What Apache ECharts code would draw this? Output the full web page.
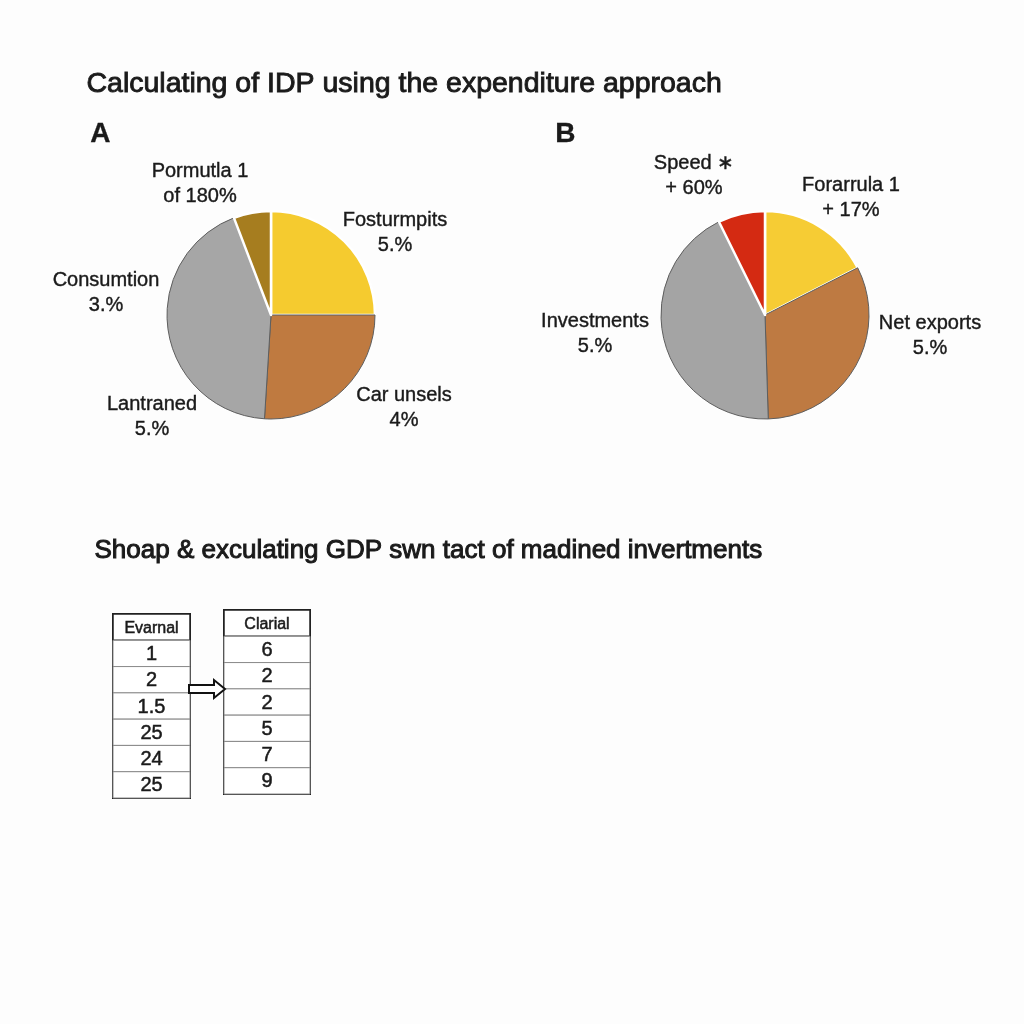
<!DOCTYPE html>
<html>
<head>
<meta charset="utf-8">
<script src="https://cdn.jsdelivr.net/npm/echarts@6/dist/echarts.min.js"></script>
<style>
  html, body { margin: 0; padding: 0; background: #fdfdfd; }
  #chart { width: 1024px; height: 1024px; }
</style>
</head>
<body>
<div id="chart"></div>
<script>
// pie A
const pieANames = ['Fosturmpits', 'Car unsels', 'Lantraned', 'Pormutla 1'];
const pieAText = ['5.%', '4%', '5.%', 'of 180%'];
const pieAValues = [25, 26, 43.2, 5.8];
const pieAColors = ['#f5cb2f', '#bf7a40', '#a6a6a6', '#a67d1f'];
const pieAExtraName = 'Consumtion';
const pieAExtraText = '3.%';

// pie B
const pieBNames = ['Forarrula 1', 'Net exports', 'Investments', 'Speed \u2217'];
const pieBText = ['+ 17%', '5.%', '5.%', '+ 60%'];
const pieBValues = [17.5, 32, 43.2, 7.3];
const pieBColors = ['#f6cc34', '#be7a42', '#a4a4a4', '#d42a12'];

// tables
const tableAHeader = 'Evarnal';
const tableAValues = ['1', '2', '1.5', '25', '24', '25'];
const tableBHeader = 'Clarial';
const tableBValues = ['6', '2', '2', '5', '7', '9'];

// label spots (centre of each two-line label)
const pieALabelPos = [[395, 233], [404, 408], [152, 417], [200, 184]];
const pieBLabelPos = [[851, 198], [930, 336], [595, 334], [694, 176]];

const textColor = '#1a1a1a';
const fontFamily = '"Liberation Sans", Arial, sans-serif';
// slices that get a white edge
const whiteEdge = [true, false, false, true];

const chart = echarts.init(document.getElementById('chart'));

function pieData(names, values, colors) {
  return names.map((name, i) => ({
    name,
    value: values[i],
    itemStyle: {
      color: colors[i],
      borderColor: whiteEdge[i] ? '#ffffff' : '#5e5e5e',
      borderWidth: whiteEdge[i] ? 2.5 : 1,
    },
  }));
}

function pieSeries(center, names, values, colors, texts, labelPos) {
  return {
    type: 'pie',
    center,
    radius: 104,
    startAngle: 90,
    clockwise: true,
    silent: true,
    animation: false,
    data: pieData(names, values, colors),
    label: {
      show: true,
      position: 'outside',
      color: textColor,
      fontFamily,
      fontSize: 20,
      lineHeight: 25,
      align: 'center',
      textBorderColor: textColor,
      textBorderWidth: 0.4,
      formatter: (p) => p.name + '\n' + texts[p.dataIndex],
    },
    labelLine: { show: false },
    labelLayout: (p) => ({
      x: labelPos[p.dataIndex][0],
      y: labelPos[p.dataIndex][1],
      align: 'center',
      verticalAlign: 'middle',
    }),
  };
}

function tableRows(header, values) {
  return [header].concat(values);
}

function tableSeries(idx, header, values) {
  const rows = tableRows(header, values);
  return {
    type: 'custom',
    xAxisIndex: idx,
    yAxisIndex: idx,
    silent: true,
    animation: false,
    data: rows.map((t, i) => [0, i, t]),
    renderItem: (params, api) => {
      const c = api.coord([0, api.value(1)]);
      const s = api.size([1, 1]);
      const row = api.value(1);
      return {
        type: 'group',
        children: [{
          type: 'rect',
          shape: { x: c[0] - s[0] / 2, y: c[1] - s[1] / 2, width: s[0], height: s[1] },
          style: { fill: '#ffffff', stroke: row === 0 ? '#222' : '#8a8a8a', lineWidth: row === 0 ? 1.5 : 1 },
        }, {
          type: 'text',
          style: {
            x: c[0],
            y: c[1] + 1,
            text: rows[row],
            align: 'center',
            verticalAlign: 'middle',
            fill: textColor,
            stroke: textColor,
            lineWidth: 0.5,
            font: (row === 0 ? '16px ' : '20px ') + fontFamily,
          },
        }],
      };
    },
  };
}

const tableGrids = [
  { left: 113, top: 614, width: 77, height: 184 },
  { left: 224, top: 610, width: 86, height: 184 },
];

function heading(text, left, top, size, weight, thick) {
  return {
    type: 'text',
    left,
    top,
    style: {
      text,
      fill: textColor,
      stroke: textColor,
      lineWidth: thick,
      font: weight + ' ' + size + 'px ' + fontFamily,
    },
  };
}

const option = {
  backgroundColor: '#fdfdfd',
  grid: tableGrids.map((g) => Object.assign({
    show: true,
    borderColor: '#222',
    borderWidth: 2,
    backgroundColor: '#fff',
  }, g)),
  xAxis: [0, 1].map((i) => ({
    gridIndex: i,
    type: 'category',
    data: ['c'],
    show: false,
  })),
  yAxis: [
    { gridIndex: 0, type: 'category', inverse: true, show: false, data: tableRows(tableAHeader, tableAValues) },
    { gridIndex: 1, type: 'category', inverse: true, show: false, data: tableRows(tableBHeader, tableBValues) },
  ],
  graphic: [
    heading('Calculating of IDP using the expenditure approach', 86, 69, 28.5, 'normal', 0.9),
    heading('A', 90, 120, 28, 'bold', 0.3),
    heading('B', 555, 120, 28, 'bold', 0.3),
    heading('Shoap & exculating GDP swn tact of madined invertments', 94, 537, 26, 'normal', 1),
    {
      type: 'text',
      x: 106,
      y: 293,
      style: {
        text: pieAExtraName + '\n' + pieAExtraText,
        fill: textColor,
        stroke: textColor,
        lineWidth: 0.4,
        font: '20px ' + fontFamily,
        lineHeight: 25,
        align: 'center',
        verticalAlign: 'middle',
      },
    }, {
      type: 'polygon',
      shape: { points: [[189, 685], [214, 685], [214, 680], [225, 689], [214, 698], [214, 693], [189, 693]] },
      style: { fill: '#fff', stroke: '#111', lineWidth: 2 },
      z: 10,
    },
  ],
  series: [
    pieSeries([271, 315], pieANames, pieAValues, pieAColors, pieAText, pieALabelPos),
    pieSeries([765, 315], pieBNames, pieBValues, pieBColors, pieBText, pieBLabelPos),
    tableSeries(0, tableAHeader, tableAValues),
    tableSeries(1, tableBHeader, tableBValues),
  ],
};

chart.setOption(option);
</script>
</body>
</html>
